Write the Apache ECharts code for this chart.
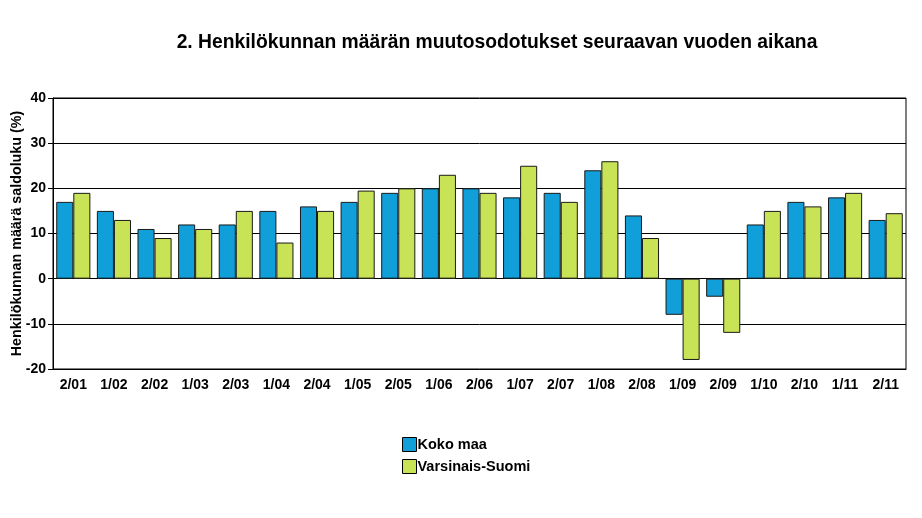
<!DOCTYPE html>
<html>
<head>
<meta charset="utf-8">
<script src="https://cdn.jsdelivr.net/npm/echarts@6/dist/echarts.min.js"></script>
<style>
html,body{margin:0;padding:0;background:#fff;}
#chart{width:922px;height:518px;}
</style>
</head>
<body>
<div id="chart"></div>
<script>
var jaksot = ['2/01','1/02','2/02','1/03','2/03','1/04','2/04','1/05','2/05','1/06','2/06','1/07','2/07','1/08','2/08','1/09','2/09','1/10','2/10','1/11','2/11'];
var kokoMaa = [17,15,11,12,12,15,16,17,19,20,20,18,19,24,14,-8,-4,12,17,18,13];
var varsinaisSuomi = [19,13,9,11,15,8,15,19.5,20,23,19,25,17,26,9,-18,-12,15,16,19,14.5];

var fontti = '"Liberation Sans", Arial, sans-serif';
var chart = echarts.init(document.getElementById('chart'));
var option = {
    backgroundColor: '#fff',
    animation: false,
    title: {
        text: '2. Henkilökunnan määrän muutosodotukset seuraavan vuoden aikana',
        left: 492,
        top: 28,
        textAlign: 'center',
        textStyle: {fontFamily: fontti, fontSize: 19.3, fontWeight: 'bold', color: '#000'}
    },
    legend: {
        orient: 'vertical',
        left: 397,
        top: 432,
        itemWidth: 14,
        itemHeight: 14,
        itemGap: 7,
        icon: 'rect',
        itemStyle: {borderColor: '#000', borderWidth: 1},
        textStyle: {fontFamily: fontti, fontSize: 14.5, fontWeight: 'bold', color: '#000', padding: [0,0,0,-4]},
        data: ['Koko maa', 'Varsinais-Suomi']
    },
    grid: {
        left: 53, right: 16, top: 98, bottom: 149,
        outerBoundsMode: 'none',
        show: true, borderColor: '#000', borderWidth: 1
    },
    xAxis: {
        type: 'category',
        data: jaksot,
        axisLine: {onZero: false, lineStyle: {color: '#000'}},
        axisTick: {alignWithLabel: true, length: 5, lineStyle: {color: '#000'}},
        axisLabel: {fontFamily: fontti, fontSize: 14, fontWeight: 'bold', color: '#000', margin: 9, interval: 0}
    },
    yAxis: {
        type: 'value',
        min: -20, max: 40, interval: 10,
        name: 'Henkilökunnan määrä saldoluku (%)',
        nameLocation: 'middle',
        nameGap: 29,
        nameMoveOverlap: false,
        nameTextStyle: {fontFamily: fontti, fontSize: 14.3, fontWeight: 'bold', color: '#000'},
        axisLine: {show: true, lineStyle: {color: '#000'}},
        axisTick: {show: true, length: 5, lineStyle: {color: '#000'}},
        axisLabel: {fontFamily: fontti, fontSize: 14, fontWeight: 'bold', color: '#000', margin: 7},
        splitLine: {lineStyle: {color: '#000', width: 1}}
    },
    series: [
        {
            name: 'Koko maa',
            type: 'bar',
            data: kokoMaa,
            barGap: '0%',
            barCategoryGap: '16%',
            itemStyle: {color: '#109fd9', borderColor: '#1a1a1a', borderWidth: 1}
        },
        {
            name: 'Varsinais-Suomi',
            type: 'bar',
            data: varsinaisSuomi,
            itemStyle: {color: '#c9e356', borderColor: '#1a1a1a', borderWidth: 1}
        }
    ]
};
chart.setOption(option);
</script>
</body>
</html>
